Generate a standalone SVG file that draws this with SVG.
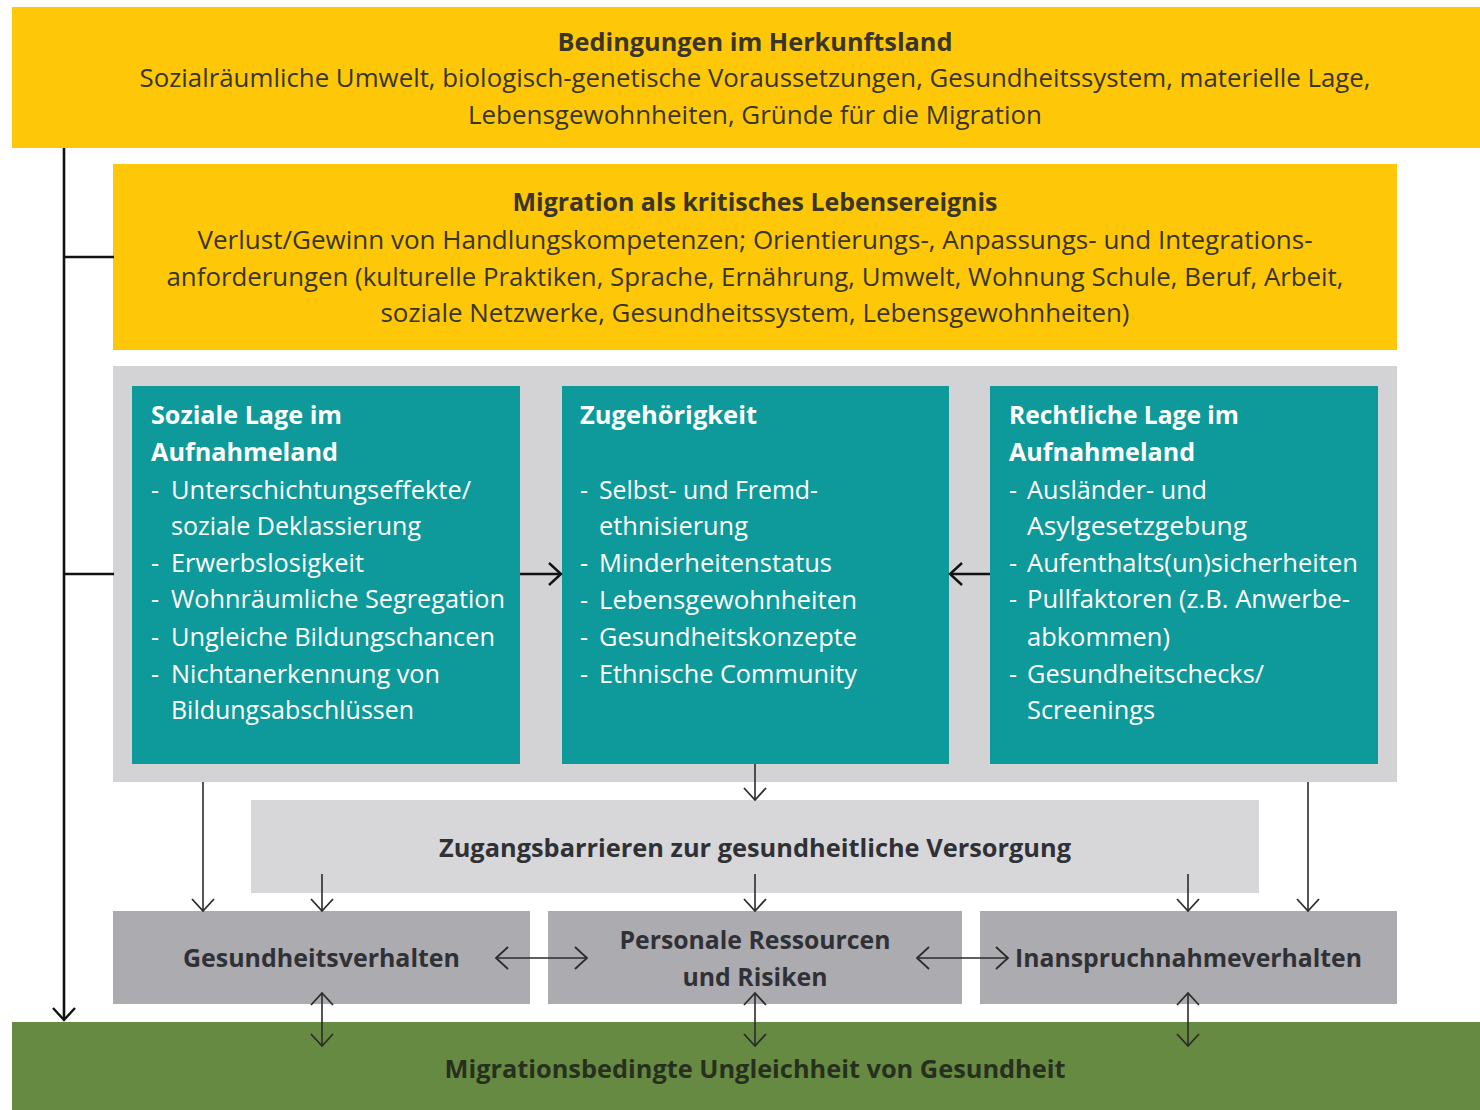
<svg xmlns="http://www.w3.org/2000/svg" width="1480" height="1110" viewBox="0 0 1480 1110">
<style>
text{font-family:"Open Sans","Noto Sans","DejaVu Sans",sans-serif;font-size:25px}
.c{text-anchor:middle}
.b{font-weight:bold}
.dk{fill:#3a3528}
.gy{fill:#303136}
.w{fill:#ffffff}
.gr{fill:#27301f}
.ln{fill:none;stroke:#2b2b2b;stroke-width:1.6}
.lk{fill:none;stroke:#111;stroke-width:2.6}
</style>
<defs>
<marker id="ah" markerUnits="userSpaceOnUse" markerWidth="16" markerHeight="26" refX="13" refY="12" orient="auto-start-reverse" viewBox="0 0 16 26">
<path d="M1,1 L13,12 L1,23" fill="none" stroke="#2b2b2b" stroke-width="1.8"/>
</marker>
<marker id="ahk" markerUnits="userSpaceOnUse" markerWidth="16" markerHeight="26" refX="13" refY="12" orient="auto-start-reverse" viewBox="0 0 16 26">
<path d="M1,1 L13,12 L1,23" fill="none" stroke="#111" stroke-width="2.4"/>
</marker>
</defs>
<rect width="1480" height="1110" fill="#ffffff"/>

<g id="herkunftsland">
<rect x="12" y="7" width="1468" height="141" fill="#FEC808"/>
<text class="c b dk" x="755" y="51" textLength="395" lengthAdjust="spacingAndGlyphs">Bedingungen im Herkunftsland</text>
<text class="c dk" x="755" y="87" textLength="1231" lengthAdjust="spacingAndGlyphs">Sozialräumliche Umwelt, biologisch-genetische Voraussetzungen, Gesundheitssystem, materielle Lage,</text>
<text class="c dk" x="755" y="124" textLength="574" lengthAdjust="spacingAndGlyphs">Lebensgewohnheiten, Gründe für die Migration</text>
</g>

<g id="migration">
<rect x="113" y="164" width="1284" height="186" fill="#FEC808"/>
<text class="c b dk" x="755" y="211" textLength="485" lengthAdjust="spacingAndGlyphs">Migration als kritisches Lebensereignis</text>
<text class="c dk" x="755" y="249" textLength="1115" lengthAdjust="spacingAndGlyphs">Verlust/Gewinn von Handlungskompetenzen; Orientierungs-, Anpassungs- und Integrations-</text>
<text class="c dk" x="755" y="286" textLength="1177" lengthAdjust="spacingAndGlyphs">anforderungen (kulturelle Praktiken, Sprache, Ernährung, Umwelt, Wohnung Schule, Beruf, Arbeit,</text>
<text class="c dk" x="755" y="322" textLength="749" lengthAdjust="spacingAndGlyphs">soziale Netzwerke, Gesundheitssystem, Lebensgewohnheiten)</text>
</g>

<g id="container">
<rect x="113" y="366" width="1284" height="416" fill="#D3D2D5"/>
</g>

<g id="soziale-lage">
<rect x="132" y="386" width="388" height="378" fill="#0E9A9A"/>
<text class="b w" x="151" y="424" textLength="191" lengthAdjust="spacingAndGlyphs">Soziale Lage im</text>
<text class="b w" x="151" y="461" textLength="187" lengthAdjust="spacingAndGlyphs">Aufnahmeland</text>
<text class="w" x="151" y="499">-</text><text class="w" x="171" y="499" textLength="300" lengthAdjust="spacingAndGlyphs">Unterschichtungseffekte/</text>
<text class="w" x="171" y="535" textLength="250" lengthAdjust="spacingAndGlyphs">soziale Deklassierung</text>
<text class="w" x="151" y="572">-</text><text class="w" x="171" y="572" textLength="193" lengthAdjust="spacingAndGlyphs">Erwerbslosigkeit</text>
<text class="w" x="151" y="608">-</text><text class="w" x="171" y="608" textLength="334" lengthAdjust="spacingAndGlyphs">Wohnräumliche Segregation</text>
<text class="w" x="151" y="646">-</text><text class="w" x="171" y="646" textLength="324" lengthAdjust="spacingAndGlyphs">Ungleiche Bildungschancen</text>
<text class="w" x="151" y="683">-</text><text class="w" x="171" y="683" textLength="269" lengthAdjust="spacingAndGlyphs">Nichtanerkennung von</text>
<text class="w" x="171" y="719" textLength="243" lengthAdjust="spacingAndGlyphs">Bildungsabschlüssen</text>
</g>

<g id="zugehoerigkeit">
<rect x="562" y="386" width="387" height="378" fill="#0E9A9A"/>
<text class="b w" x="580" y="424" textLength="177" lengthAdjust="spacingAndGlyphs">Zugehörigkeit</text>
<text class="w" x="580" y="499">-</text><text class="w" x="599" y="499" textLength="219" lengthAdjust="spacingAndGlyphs">Selbst- und Fremd-</text>
<text class="w" x="599" y="535" textLength="149" lengthAdjust="spacingAndGlyphs">ethnisierung</text>
<text class="w" x="580" y="572">-</text><text class="w" x="599" y="572" textLength="233" lengthAdjust="spacingAndGlyphs">Minderheitenstatus</text>
<text class="w" x="580" y="609">-</text><text class="w" x="599" y="609" textLength="258" lengthAdjust="spacingAndGlyphs">Lebensgewohnheiten</text>
<text class="w" x="580" y="646">-</text><text class="w" x="599" y="646" textLength="258" lengthAdjust="spacingAndGlyphs">Gesundheitskonzepte</text>
<text class="w" x="580" y="683">-</text><text class="w" x="599" y="683" textLength="258" lengthAdjust="spacingAndGlyphs">Ethnische Community</text>
</g>

<g id="rechtliche-lage">
<rect x="990" y="386" width="388" height="378" fill="#0E9A9A"/>
<text class="b w" x="1009" y="424" textLength="230" lengthAdjust="spacingAndGlyphs">Rechtliche Lage im</text>
<text class="b w" x="1009" y="461" textLength="186" lengthAdjust="spacingAndGlyphs">Aufnahmeland</text>
<text class="w" x="1009" y="499">-</text><text class="w" x="1027" y="499" textLength="180" lengthAdjust="spacingAndGlyphs">Ausländer- und</text>
<text class="w" x="1027" y="535" textLength="220" lengthAdjust="spacingAndGlyphs">Asylgesetzgebung</text>
<text class="w" x="1009" y="572">-</text><text class="w" x="1027" y="572" textLength="331" lengthAdjust="spacingAndGlyphs">Aufenthalts(un)sicherheiten</text>
<text class="w" x="1009" y="608">-</text><text class="w" x="1027" y="608" textLength="323" lengthAdjust="spacingAndGlyphs">Pullfaktoren (z.B. Anwerbe-</text>
<text class="w" x="1027" y="646" textLength="143" lengthAdjust="spacingAndGlyphs">abkommen)</text>
<text class="w" x="1009" y="683">-</text><text class="w" x="1027" y="683" textLength="237" lengthAdjust="spacingAndGlyphs">Gesundheitschecks/</text>
<text class="w" x="1027" y="719" textLength="128" lengthAdjust="spacingAndGlyphs">Screenings</text>
</g>

<g id="zugangsbarrieren">
<rect x="251" y="800" width="1008" height="93" fill="#D7D7D9"/>
<text class="c b gy" x="755" y="857" textLength="632" lengthAdjust="spacingAndGlyphs">Zugangsbarrieren zur gesundheitliche Versorgung</text>
</g>

<g id="gesundheitsverhalten">
<rect x="113" y="911" width="417" height="93" fill="#ACABAF"/>
<text class="b gy" x="183" y="967" textLength="277" lengthAdjust="spacingAndGlyphs">Gesundheitsverhalten</text>
</g>

<g id="personale-ressourcen">
<rect x="548" y="911" width="414" height="93" fill="#ACABAF"/>
<text class="c b gy" x="755" y="949" textLength="271" lengthAdjust="spacingAndGlyphs">Personale Ressourcen</text>
<text class="c b gy" x="755" y="986" textLength="145" lengthAdjust="spacingAndGlyphs">und Risiken</text>
</g>

<g id="inanspruchnahmeverhalten">
<rect x="980" y="911" width="417" height="93" fill="#ACABAF"/>
<text class="b gy" x="1015" y="967" textLength="347" lengthAdjust="spacingAndGlyphs">Inanspruchnahmeverhalten</text>
</g>

<g id="ungleichheit">
<rect x="12" y="1022" width="1468" height="88" fill="#668A42"/>
<text class="c b gr" x="755" y="1078" textLength="621" lengthAdjust="spacingAndGlyphs">Migrationsbedingte Ungleichheit von Gesundheit</text>
</g>

<g id="connectors">
<path class="lk" d="M64,148 V1020" marker-end="url(#ahk)"/>
<path class="lk" d="M64,257 H114"/>
<path class="lk" d="M64,574 H114"/>
<path class="lk" d="M520,574 H561" marker-end="url(#ahk)"/>
<path class="lk" d="M990,574 H950" marker-end="url(#ahk)"/>
<path class="ln" d="M755,764 V800" marker-end="url(#ah)"/>
<path class="ln" d="M203,782 V911" marker-end="url(#ah)"/>
<path class="ln" d="M322,874 V911" marker-end="url(#ah)"/>
<path class="ln" d="M755,874 V911" marker-end="url(#ah)"/>
<path class="ln" d="M1188,874 V911" marker-end="url(#ah)"/>
<path class="ln" d="M1308,782 V911" marker-end="url(#ah)"/>
<path class="ln" d="M496,958 H587" marker-start="url(#ah)" marker-end="url(#ah)"/>
<path class="ln" d="M917,958 H1008" marker-start="url(#ah)" marker-end="url(#ah)"/>
<path class="ln" d="M322,993 V1046" marker-start="url(#ah)" marker-end="url(#ah)"/>
<path class="ln" d="M755,993 V1046" marker-start="url(#ah)" marker-end="url(#ah)"/>
<path class="ln" d="M1188,993 V1046" marker-start="url(#ah)" marker-end="url(#ah)"/>
</g>
</svg>
